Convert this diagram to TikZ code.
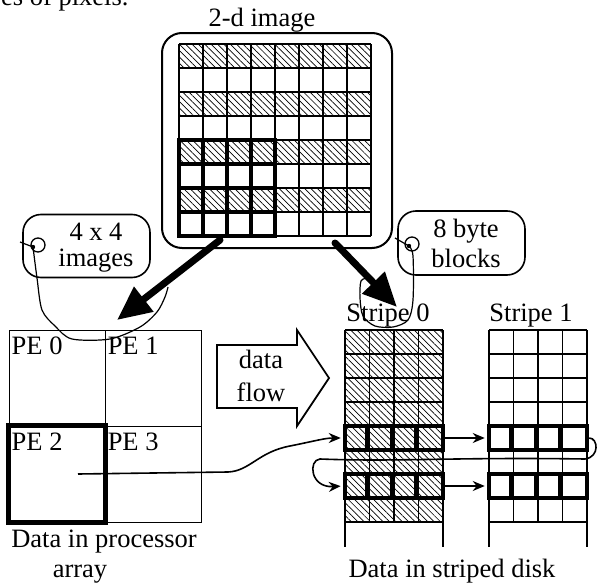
\documentclass[tikz,border=0pt]{standalone}
\usepackage{fontspec}
\setmainfont{Liberation Serif}
\usetikzlibrary{positioning,arrows.meta,patterns.meta}
\newcommand{\figfont}{\fontsize{26.5}{30}\selectfont}

\begin{document}
\begin{tikzpicture}[x=1pt, y=-1pt,
    txt/.style={font=\figfont, inner sep=0pt},
    hatch/.style={pattern={Lines[angle=-45,distance=4.5pt,line width=0.7pt]}},
    gridline/.style={line width=1.2pt},
    heavy/.style={line width=4.5pt},
    callout/.style={draw, line width=1.6pt, rounded corners=18pt, inner sep=0pt, minimum width=127pt, minimum height=63pt},
    ring/.style={draw, circle, line width=1.3pt, minimum size=14pt, inner sep=0pt},
    lasso/.style={line width=1.2pt},
    bigarrow/.style={line width=7pt, line cap=round, -{Triangle[length=34pt,width=30pt]}},
    flow/.style={line width=1.6pt, -{Stealth[length=12pt,width=10pt]}, shorten >=2pt},
    pecell/.style={draw, line width=0.9pt, minimum size=96pt, inner sep=0pt},
    rowbox/.style={draw, heavy, minimum width=98pt, minimum height=24pt, inner sep=0pt}]
    \useasboundingbox (0,0) rectangle (598,584);
    \node[txt, anchor=base west] (frag) at (1,5) {es of pixels.};

    % 2-d image
    \node[txt, anchor=base] (imgtitle) at (262,26) {2-d image};
    \node[draw, line width=2pt, rounded corners=20pt, minimum width=230pt, minimum height=215pt, inner sep=0pt] (img) at (277,140.5) {};
    \foreach \r in {0,2,4,6}
        \fill[hatch] (179,44+24*\r) rectangle +(192,24);
    \foreach \i in {0,...,8} {
        \draw[gridline] (179+24*\i,44) -- +(0,192);
        \draw[gridline] (179,44+24*\i) -- +(192,0);
    }
    \draw[heavy] (179,140) rectangle (275,236);
    \foreach \i in {1,2,3} {
        \draw[heavy] (179+24*\i,140) -- +(0,96);
        \draw[heavy] (179,140+24*\i) -- +(96,0);
    }

    % callouts
    \node[callout] (c44) at (86.5,246) {};
    \node[txt, align=center, font={\fontsize{26.5}{26}\selectfont}] (c44txt) at (96,248) {4 x 4\\images};
    \node[ring] (ring44) at (38,245) {};
    \coordinate (dot44) at (33,247);
    \coordinate (tick44) at (20,242);
    \fill (dot44) circle (2.2pt);
    \draw[lasso] (tick44) -- (dot44);
    \draw[lasso] plot[smooth, tension=0.5] coordinates {(dot44) (37,278) (42,310) (55,326) (72,339) (110,339) (140,327) (157,312) (165,297) (168,287)};

    \node[callout, minimum height=64pt] (c8b) at (461.5,243) {};
    \node[txt, align=center, font={\fontsize{26.5}{30}\selectfont}] (c8btxt) at (466,243) {8 byte\\blocks};
    \node[ring] (ring8) at (412,244) {};
    \coordinate (dot8) at (409,246);
    \coordinate (tick8) at (395,238);
    \fill (dot8) circle (2.2pt);
    \draw[lasso] (tick8) -- (dot8);
    \draw[lasso] plot[smooth, tension=0.5] coordinates {(dot8) (413,256) (413,300) (408,320) (393,327) (375,326) (363,316) (360,298) (361,281) (368,278)};

    % big arrows
    \coordinate (a1s) at (220,240);
    \coordinate (a1e) at (117,320);
    \draw[bigarrow] (a1s) -- (a1e);
    \coordinate (a2s) at (335,243);
    \coordinate (a2e) at (397,307);
    \draw[bigarrow] (a2s) -- (a2e);

    % processor array
    \node[pecell] (pe0) at (57,378) {};
    \node[pecell] (pe1) at (153,378) {};
    \node[pecell] (pe2) at (57,474) {};
    \node[pecell] (pe3) at (153,474) {};
    \draw[line width=5pt] (pe2.north west) rectangle (pe2.south east);
    \foreach \n/\l in {pe0/PE 0,pe1/PE 1,pe2/PE 2,pe3/PE 3}
        \node[txt, anchor=base west] (\n-lbl) at ([shift={(3,25)}]\n.north west) {\l};
    \node[txt, anchor=base] (pecap1) at (104,547) {Data in processor};
    \node[txt, anchor=base] (pecap2) at (80,577) {array};

    % data flow arrow
    \draw[line width=1.8pt, line join=miter] (217,345) -- (297,345) -- (297,330) -- (329,378) -- (297,426) -- (297,408) -- (217,408) -- cycle;
    \node[txt, align=center, font={\fontsize{26.5}{33}\selectfont}] (flowtxt) at (261,375.5) {data\\flow};

    % stripes
    \fill[hatch] (345,330) rectangle (443,522);
    \foreach \x in {345,489} {
        \foreach \i in {0,...,8}
            \draw[gridline] (\x,330+24*\i) -- +(98,0);
        \foreach \j in {1,2,3}
            \draw[gridline] (\x+24.5*\j,330) -- +(0,192);
        \draw[line width=2pt] (\x,330) -- +(0,217);
        \draw[line width=2pt] (\x+98,330) -- +(0,217);
    }
    \node[txt, anchor=base] (st0) at (388,321) {Stripe 0};
    \node[txt, anchor=base] (st1) at (531,321) {Stripe 1};
    \node[rowbox] (s0r4) at (394,438) {};
    \node[rowbox] (s0r6) at (394,486) {};
    \node[rowbox] (s1r4) at (538,438) {};
    \node[rowbox] (s1r6) at (538,486) {};
    \foreach \n in {s0r4,s0r6,s1r4,s1r6}
        \foreach \j in {1,2,3}
            \draw[heavy] ([xshift=24.5*\j]\n.north west) -- ([xshift=24.5*\j]\n.south west);
    \node[txt, anchor=base] (diskcap) at (452,577) {Data in striped disk};

    % connectors
    \coordinate (pe2src) at (78,474);
    \draw[flow] (pe2src) -- (228,472) .. controls (250,471) and (258,452) .. (290,446) .. controls (315,441) and (325,438) .. (s0r4.west);
    \draw[flow] (s0r4.east) -- (s1r4.west);
    \draw[flow] (s0r6.east) -- (s1r6.west);
    \draw[flow] (s1r4.east) .. controls (598,438) and (600,457) .. (585,459) .. controls (450,457) and (400,462) .. (320,459) .. controls (308,460) and (310,488) .. (s0r6.west);
\end{tikzpicture}
\end{document}
